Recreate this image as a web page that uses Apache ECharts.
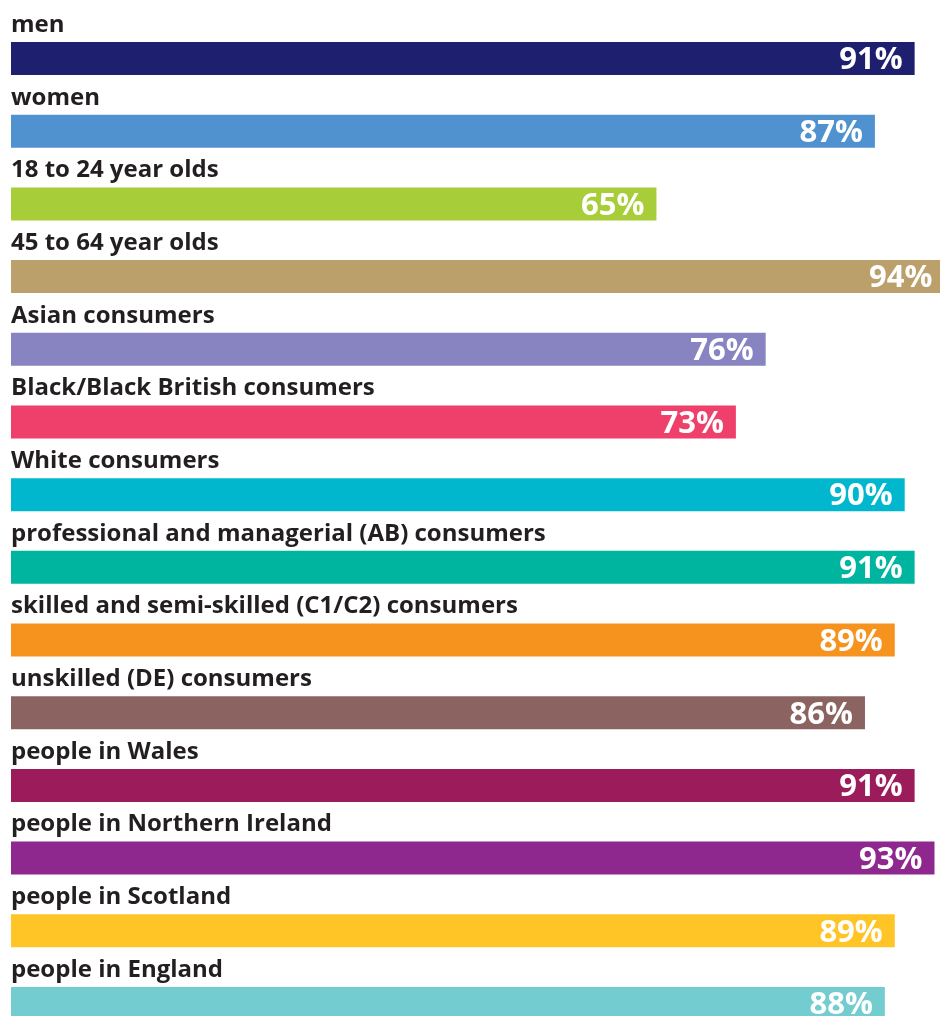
<!DOCTYPE html>
<html>
<head>
<meta charset="utf-8">
<script src="https://cdn.jsdelivr.net/npm/echarts@6/dist/echarts.min.js"></script>
<style>
html,body{margin:0;padding:0;background:#fff;}
#chart{width:940px;height:1016px;}
</style>
</head>
<body>
<div id="chart"></div>
<script>
var categories = [
  "men",
  "women",
  "18 to 24 year olds",
  "45 to 64 year olds",
  "Asian consumers",
  "Black/Black British consumers",
  "White consumers",
  "professional and managerial (AB) consumers",
  "skilled and semi-skilled (C1/C2) consumers",
  "unskilled (DE) consumers",
  "people in Wales",
  "people in Northern Ireland",
  "people in Scotland",
  "people in England"
];
var values = [91, 87, 65, 94, 76, 73, 90, 91, 89, 86, 91, 93, 89, 88];
var colors = ["#1e1f6e", "#5092cf", "#a7ce39", "#bca06b", "#8883c1", "#ee406a", "#00b7ce",
              "#00b59f", "#f6931e", "#8b6461", "#9c1c5b", "#8e278e", "#ffc425", "#73ccd0"];

var chart = echarts.init(document.getElementById('chart'));
chart.setOption({
  animation: false,
  grid: { left: 11, top: 22.15, width: 993, height: 1017.7, containLabel: false, outerBoundsMode: 'none' },
  xAxis: { type: 'value', min: 0, max: 100, show: false },
  yAxis: {
    type: 'category',
    inverse: true,
    data: categories,
    axisLine: { show: false },
    axisTick: { show: false },
    splitLine: { show: false },
    axisLabel: { show: false }
  },
  series: [{
    type: 'bar',
    barWidth: 33,
    barGap: '-100%',
    clip: false,
    data: values.map(function (v, i) { return { value: v, itemStyle: { color: colors[i] } }; }),
    label: {
      show: true,
      position: 'insideRight',
      distance: 12,
      offset: [0, 2],
      formatter: '{c}%',
      color: '#ffffff',
      fontFamily: 'Open Sans',
      fontWeight: 'bold',
      fontSize: 31
    }
  }, {
    type: 'bar',
    barWidth: 33,
    barGap: '-100%',
    clip: false,
    z: 1,
    itemStyle: { color: 'rgba(0,0,0,0)' },
    data: values,
    label: {
      show: true,
      position: [0, -5],
      align: 'left',
      verticalAlign: 'bottom',
      formatter: function (p) { return categories[p.dataIndex]; },
      color: '#231f20',
      fontFamily: 'Open Sans',
      fontWeight: 'bold',
      fontSize: 24
    }
  }]
});
</script>
</body>
</html>
